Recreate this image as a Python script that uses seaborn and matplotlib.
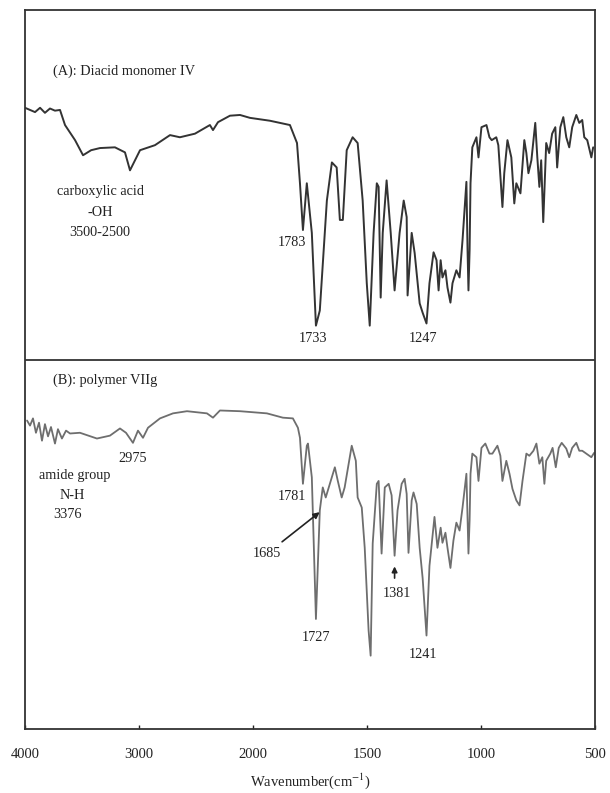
import numpy as np
import pandas as pd
import matplotlib
matplotlib.use("Agg")
import matplotlib.pyplot as plt
import seaborn as sns

# ---- Data: spectrum (A) Diacid monomer IV ----
wn_a = [4000, 3956, 3912, 3868, 3825, 3781, 3737, 3693, 3649, 3561, 3491, 3420, 3342, 3211,
        3123, 3079, 2991, 2860, 2728, 2641, 2509, 2378, 2351, 2307, 2202, 2114, 2027, 1926,
        1882, 1838, 1807, 1794, 1781, 1764, 1742, 1724, 1707, 1676, 1654, 1633, 1619, 1606,
        1589, 1563, 1541, 1519, 1501, 1488, 1471, 1457, 1449, 1440, 1431, 1414, 1396, 1379,
        1357, 1339, 1326, 1322, 1304, 1291, 1269, 1256, 1239, 1226, 1208, 1195, 1186, 1177,
        1169, 1156, 1147, 1134, 1125, 1108, 1094, 1081, 1064, 1059, 1055, 1050, 1046, 1038,
        1020, 1011, 998, 976, 963, 953, 933, 924, 906, 898, 884, 867, 854, 845, 827, 810,
        801, 792, 779, 762, 753, 744, 736, 727, 714, 701, 688, 674, 666, 652, 639, 626, 613,
        600, 582, 569, 556, 547, 534, 516, 508]
t_a = [86.4, 86.1, 85.8, 86.4, 85.7, 86.3, 86.0, 86.1, 84.0, 81.9, 79.8, 80.5, 80.8, 80.9,
       80.2, 77.7, 80.5, 81.2, 82.6, 82.3, 82.8, 84.0, 83.3, 84.4, 85.3, 85.4, 85.0, 84.6,
       84.3, 84.0, 81.5, 75.9, 69.4, 75.9, 69.0, 56.1, 58.2, 73.5, 78.8, 78.1, 70.8, 70.8,
       80.5, 82.3, 81.5, 73.5, 62.0, 56.1, 69.0, 75.9, 75.4, 60.0, 69.0, 76.3, 69.0, 61.0,
       69.0, 73.5, 71.2, 60.3, 69.0, 66.2, 59.2, 57.9, 56.4, 62.0, 66.3, 65.2, 61.0, 65.2,
       62.8, 63.8, 61.4, 59.3, 62.0, 63.8, 62.8, 68.0, 76.1, 66.6, 61.0, 66.6, 75.9, 80.9,
       82.3, 79.5, 83.7, 84.0, 82.3, 81.9, 82.3, 81.2, 72.6, 77.3, 81.9, 79.5, 73.1, 75.9,
       74.5, 81.9, 80.1, 77.3, 79.1, 84.3, 79.5, 75.4, 79.1, 70.5, 81.5, 80.1, 82.8, 83.7,
       78.1, 83.7, 85.1, 82.3, 80.9, 83.7, 85.4, 84.3, 84.7, 82.3, 81.9, 79.5, 80.9]

# ---- Data: spectrum (B) polymer VIIg ----
wn_b = [3982, 3956, 3930, 3904, 3877, 3851, 3825, 3798, 3772, 3737, 3711, 3676, 3640, 3605,
        3518, 3369, 3255, 3167, 3114, 3053, 3009, 2965, 2921, 2816, 2702, 2579, 2404, 2351,
        2290, 2114, 1939, 1869, 1825, 1803, 1794, 1781, 1764, 1759, 1742, 1724, 1707, 1694,
        1681, 1663, 1641, 1628, 1611, 1598, 1567, 1549, 1541, 1523, 1510, 1493, 1484, 1475,
        1457, 1449, 1436, 1422, 1405, 1392, 1379, 1366, 1348, 1335, 1326, 1318, 1304, 1296,
        1282, 1269, 1256, 1239, 1226, 1204, 1191, 1177, 1169, 1156, 1147, 1134, 1121, 1108,
        1094, 1081, 1064, 1059, 1055, 1050, 1046, 1038, 1020, 1011, 998, 981, 963, 950, 928,
        915, 906, 889, 875, 862, 845, 831, 818, 801, 788, 770, 757, 744, 731, 722, 714, 696,
        686, 672, 659, 646, 626, 613, 600, 582, 569, 556, 538, 516, 504]
t_b = [42.9, 42.2, 43.2, 41.2, 42.6, 40.1, 42.4, 40.7, 42.0, 39.7, 41.7, 40.4, 41.5, 41.1,
       41.2, 40.4, 40.8, 41.8, 41.2, 39.8, 41.5, 40.5, 41.9, 43.2, 43.9, 44.2, 43.9, 43.3,
       44.3, 44.2, 43.9, 43.3, 43.2, 41.9, 40.5, 34.1, 39.4, 39.7, 35.0, 15.3, 30.4, 33.6,
       32.2, 34.1, 36.4, 34.5, 32.2, 33.6, 39.4, 37.3, 32.2, 30.8, 25.2, 13.7, 10.2, 25.8,
       34.1, 34.5, 24.4, 33.6, 34.1, 32.5, 24.1, 30.4, 34.1, 34.8, 32.7, 24.5, 31.8, 32.9,
       31.3, 25.2, 21.0, 13.0, 22.7, 29.5, 25.2, 28.0, 25.9, 27.3, 25.2, 22.4, 26.2, 28.7,
       27.6, 30.8, 35.5, 29.0, 24.4, 29.0, 35.5, 38.3, 37.8, 34.5, 39.1, 39.7, 38.3, 38.3,
       39.4, 38.0, 34.5, 37.3, 35.5, 33.4, 31.8, 31.1, 34.5, 38.3, 38.0, 38.7, 39.7, 36.9,
       37.8, 34.1, 37.3, 38.3, 39.1, 36.4, 39.1, 39.8, 39.0, 37.8, 39.1, 39.8, 38.7, 38.7,
       38.3, 37.8, 38.4]

tick_values = [4000, 3000, 2000, 1500, 1000, 500]
tick_labels = ["4000", "3000", "2000", "1500", "1000", "500"]

df_a = pd.DataFrame({"wn": wn_a, "T": t_a})
df_b = pd.DataFrame({"wn": wn_b, "T": t_b})

sns.set_theme(style="white")
plt.rcParams["font.family"] = ["Liberation Serif", "DejaVu Serif"]
plt.rcParams["mathtext.fontset"] = "stix"

fig = plt.figure(figsize=(6.10, 7.93), dpi=100)
ax = fig.add_axes([25 / 610, 1 - 729 / 793, 570 / 610, 719 / 793])


def fwd(w):
    w = np.asarray(w, dtype=float)
    return np.where(w > 2000, 2000 + (w - 2000) / 2.0, w)


def inv(u):
    u = np.asarray(u, dtype=float)
    return np.where(u > 2000, 2000 + (u - 2000) * 2.0, u)


ax.set_xscale("function", functions=(fwd, inv))

sns.lineplot(data=df_a, x="wn", y="T", ax=ax, sort=False, estimator=None,
             color="#333333", linewidth=1.4)
sns.lineplot(data=df_b, x="wn", y="T", ax=ax, sort=False, estimator=None,
             color="#6e6e6e", linewidth=1.3)

ax.set_xlim(4000, 500)
ax.set_ylim(0, 100)
ax.axhline(51.3, color="#333333", linewidth=1.3)

ax.set_xticks(tick_values)
ax.set_xticklabels(tick_labels)
ax.xaxis.set_minor_locator(matplotlib.ticker.NullLocator())
ax.set_yticks([])
ax.tick_params(axis="x", direction="in", length=3, width=1, pad=14,
               labelsize=10.5, colors="#222222", bottom=True)
ax.set_ylabel("")
ax.set_xlabel("Wavenumber(cm$^{-1}$)", fontsize=10.5, color="#222222", labelpad=7)

for s in ax.spines.values():
    s.set_color("#333333")
    s.set_linewidth(1.3)

tc = "#222222"
fs = 10.3
ax.text(3754, 91.5, "(A): Diacid monomer IV", ha="left", va="center", fontsize=fs, color=tc)
ax.text(3342, 74.7, "carboxylic acid", ha="center", va="center", fontsize=fs, color=tc)
ax.text(3342, 71.9, "-OH", ha="center", va="center", fontsize=fs, color=tc)
ax.text(3342, 69.1, "3500-2500", ha="center", va="center", fontsize=fs, color=tc)
ax.text(1829, 67.6, "1783", ha="center", va="center", fontsize=fs, color=tc)
ax.text(1738, 54.3, "1733", ha="center", va="center", fontsize=fs, color=tc)
ax.text(1256, 54.3, "1247", ha="center", va="center", fontsize=fs, color=tc)

ax.text(3754, 48.5, "(B): polymer VIIg", ha="left", va="center", fontsize=fs, color=tc)
ax.text(3053, 37.6, "2975", ha="center", va="center", fontsize=fs, color=tc)
ax.text(3561, 35.2, "amide group", ha="center", va="center", fontsize=fs, color=tc)
ax.text(3588, 32.5, "N-H", ha="center", va="center", fontsize=fs, color=tc)
ax.text(3623, 29.8, "3376", ha="center", va="center", fontsize=fs, color=tc)
ax.text(1829, 32.3, "1781", ha="center", va="center", fontsize=fs, color=tc)
ax.text(1939, 24.4, "1685", ha="center", va="center", fontsize=fs, color=tc)
ax.annotate("", xy=(1698, 30.4), xytext=(1882, 25.8),
            arrowprops=dict(arrowstyle="-|>", color="#222222", lw=1.2, mutation_scale=9))
ax.text(1724, 12.7, "1727", ha="center", va="center", fontsize=fs, color=tc)
ax.text(1370, 18.9, "1381", ha="center", va="center", fontsize=fs, color=tc)
ax.annotate("", xy=(1379, 23.0), xytext=(1379, 20.6),
            arrowprops=dict(arrowstyle="-|>", color="#222222", lw=1.2, mutation_scale=8))
ax.text(1256, 10.4, "1241", ha="center", va="center", fontsize=fs, color=tc)

fig.savefig("out.png", dpi=100)
